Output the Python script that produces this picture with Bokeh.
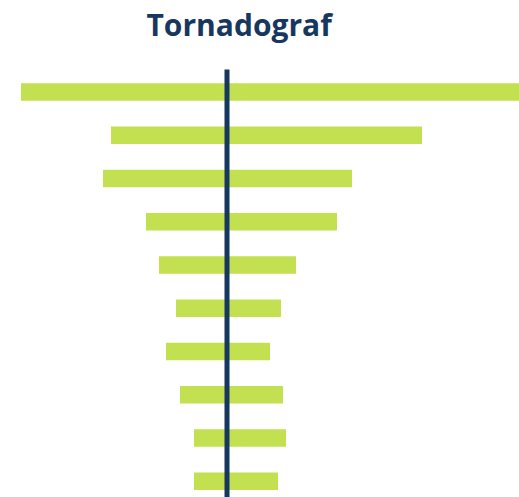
from bokeh.plotting import figure
from bokeh.models import Range1d, ColumnDataSource, Label
from bokeh.embed import file_html
from bokeh.resources import INLINE

# Data
rank = [0, 1, 2, 3, 4, 5, 6, 7, 8, 9]
low = [-206, -116, -124, -81, -68, -51, -61, -47, -33, -33]
high = [300, 195, 125, 110, 69, 54, 43, 56, 59, 51]
title_text = "Tornadograf"

# layout constants (data units: 1 x-unit = 1px, 1 y-unit = one bar slot)
y_top, y_bottom = -2.115, 9.376
line_top = -0.52
x_start, x_end = -226.5, 292.5

src = ColumnDataSource(dict(y=rank, left=low, right=high))

p = figure(width=519, height=497, output_backend="svg", toolbar_location=None,
           x_range=Range1d(x_start, x_end), y_range=Range1d(y_bottom, y_top),
           min_border=0, outline_line_color=None)
p.axis.visible = False
p.grid.visible = False

p.hbar(y="y", left="left", right="right", height=0.4, source=src,
       fill_color="#C2E04F", line_color=None)

# centre (base) line
p.segment(x0=[0], y0=[line_top], x1=[0], y1=[y_bottom],
          line_color="#17375E", line_width=5)

p.add_layout(Label(x=x_start + 146, y=line_top - 1.05, text=title_text,
                   text_font="Open Sans", text_font_style="bold", text_font_size="30px",
                   text_color="#17375E", text_baseline="alphabetic", text_align="left"))

open("out.html", "w").write(file_html(p, INLINE))
